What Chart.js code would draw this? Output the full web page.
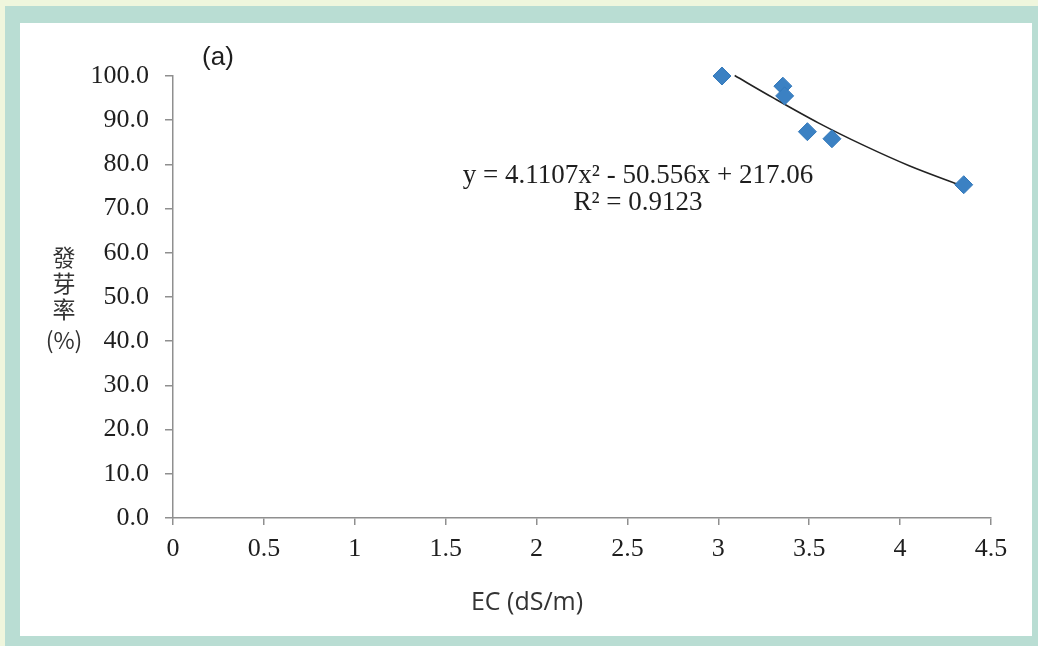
<!DOCTYPE html>
<html>
<head>
<meta charset="utf-8">
<script src="https://cdn.jsdelivr.net/npm/chart.js@4"></script>
<style>
  html, body { margin: 0; padding: 0; }
  body { width: 1038px; height: 646px; background: #eff6dd; position: relative; overflow: hidden; }
  #frame { position: absolute; left: 5px; top: 6px; right: 0; bottom: 0; background: #b9ddd3; }
  #panel { position: absolute; left: 20px; top: 23px; width: 1012px; height: 613px; background: #fff; }
  #myChart { position: absolute; left: 0; top: 0; }
</style>
</head>
<body>
<div id="frame"></div>
<div id="panel"></div>
<canvas id="myChart" width="1038" height="646"></canvas>
<script>
// measured points (EC vs germination %)
const ecValues = [3.02, 3.355, 3.365, 3.49, 3.625, 4.35];
const germination = [100.0, 97.7, 95.5, 87.4, 85.8, 75.4];

// trendline
const trendX = [3.09, 3.3, 3.55, 3.8, 4.05, 4.35];
const trendY = [100.1, 95.1, 89.4, 84.3, 79.7, 75.0];

const equationText = 'y = 4.1107x\u00b2 - 50.556x + 217.06';
const r2Text = 'R\u00b2 = 0.9123';
const panelLabel = '(a)';
const yTitle = ['發', '芽', '率', '(%)'];
const xTitle = 'EC (dS/m)';

const axisColor = '#8f8f8f';
const tickFont = { family: '"Liberation Serif", "Times New Roman", serif', size: 26 };

const textPlugin = {
    id: 'extraText',
    afterDraw(chart) {
        const c = chart.ctx;
        c.save();
        c.fillStyle = '#1e1e1e';
        c.textAlign = 'center';
        c.textBaseline = 'middle';

        c.font = '26px "Liberation Sans", Arial, sans-serif';
        c.fillText(panelLabel, 218, 58);

        c.font = '27px "Liberation Serif", "Times New Roman", serif';
        c.fillText(equationText, 638, 176);
        c.fillText(r2Text, 638, 203);

        c.fillStyle = '#333';
        c.font = '23px "Noto Sans CJK TC", sans-serif';
        const ys = [257, 283, 309, 340];
        yTitle.forEach((t, i) => c.fillText(t, 64, ys[i]));

        c.font = '25px "Open Sans", "Noto Sans", sans-serif';
        c.fillText(xTitle, 527, 603);
        c.restore();
    }
};

const ctx = document.getElementById('myChart').getContext('2d');
const chart = new Chart(ctx, {
    type: 'scatter',
    data: {
        datasets: [{
            label: 'Germination',
            data: ecValues.map((x, i) => ({ x: x, y: germination[i] })),
            pointStyle: 'rectRot',
            pointRadius: 9,
            pointHoverRadius: 9,
            backgroundColor: '#3b81c3',
            borderColor: '#3479bb',
            borderWidth: 1,
            clip: false,
            order: 0
        }, {
            label: 'Trend',
            type: 'line',
            data: trendX.map((x, i) => ({ x: x, y: trendY[i] })),
            borderColor: '#222',
            borderWidth: 1.6,
            pointRadius: 0,
            fill: false,
            cubicInterpolationMode: 'monotone',
            clip: false,
            order: 1
        }]
    },
    options: {
        responsive: false,
        animation: false,
        layout: { padding: { left: 0, top: 76, right: 47, bottom: 0 } },
        plugins: {
            legend: { display: false },
            tooltip: { enabled: false }
        },
        scales: {
            x: {
                type: 'linear',
                min: 0,
                max: 4.5,
                afterFit: (scale) => { scale.height = 128; },
                border: { display: true, color: axisColor, width: 1.5 },
                grid: { drawOnChartArea: false, drawTicks: true, tickLength: 7, color: axisColor, lineWidth: 1.5 },
                ticks: {
                    stepSize: 0.5,
                    padding: 9,
                    color: '#1e1e1e',
                    font: tickFont,
                    maxRotation: 0,
                    autoSkip: false,
                    callback: function (value) {
                        return String(value);
                    }
                }
            },
            y: {
                min: 0,
                max: 100,
                afterFit: (scale) => { scale.width = 173; },
                border: { display: true, color: axisColor, width: 1.5 },
                grid: { drawOnChartArea: false, drawTicks: true, tickLength: 8, color: axisColor, lineWidth: 1.5 },
                ticks: {
                    stepSize: 10,
                    padding: 16,
                    color: '#1e1e1e',
                    font: tickFont,
                    callback: function (value) {
                        return value.toFixed(1);
                    }
                }
            }
        }
    },
    plugins: [textPlugin]
});
</script>
</body>
</html>
